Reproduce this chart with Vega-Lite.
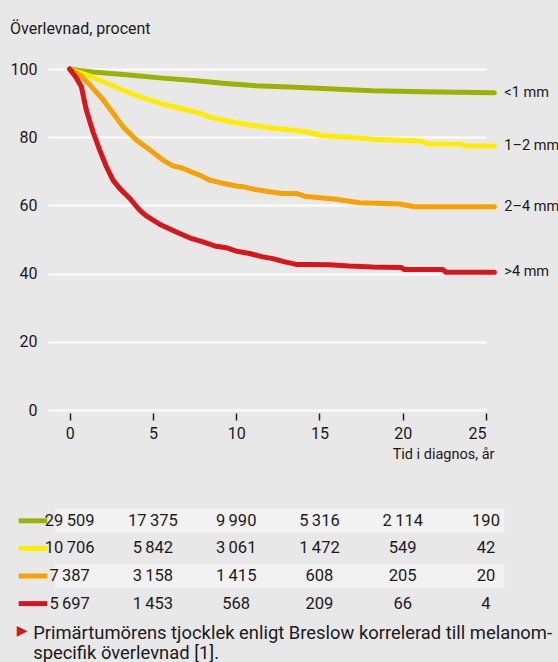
{
  "$schema": "https://vega.github.io/schema/vega-lite/v6.json",
  "background": "#e8e8e8",
  "padding": {"left": 10, "top": 21, "right": 0, "bottom": 0},
  "bounds": "flush",
  "spacing": 97,
  "config": {
    "view": {"stroke": null},
    "font": "Roboto",
    "locale": {"number": {"decimal": ",", "thousands": "\u2009", "grouping": [3], "currency": ["", " kr"]}},
    "axis": {"labelColor": "#1a1a1a", "titleColor": "#1a1a1a", "labelFont": "Roboto", "titleFont": "Roboto"}
  },
  "datasets": {
    "series": [
      {"group": "<1 mm", "year": 0, "value": 100}, {"group": "<1 mm", "year": 0.7, "value": 99.5}, {"group": "<1 mm", "year": 1.4, "value": 99.1}, {"group": "<1 mm", "year": 3.4, "value": 98.3}, {"group": "<1 mm", "year": 5.4, "value": 97.4}, {"group": "<1 mm", "year": 7.8, "value": 96.5}, {"group": "<1 mm", "year": 9.2, "value": 95.8}, {"group": "<1 mm", "year": 11.2, "value": 95.1}, {"group": "<1 mm", "year": 13.2, "value": 94.7}, {"group": "<1 mm", "year": 15.2, "value": 94.3}, {"group": "<1 mm", "year": 16.8, "value": 93.9}, {"group": "<1 mm", "year": 18.2, "value": 93.6}, {"group": "<1 mm", "year": 21.2, "value": 93.3}, {"group": "<1 mm", "year": 25.5, "value": 93.0},
      {"group": "1–2 mm", "year": 0, "value": 100}, {"group": "1–2 mm", "year": 1.0, "value": 98.3}, {"group": "1–2 mm", "year": 2.2, "value": 95.9}, {"group": "1–2 mm", "year": 3.4, "value": 93.4}, {"group": "1–2 mm", "year": 4.4, "value": 91.5}, {"group": "1–2 mm", "year": 5.4, "value": 90.0}, {"group": "1–2 mm", "year": 6.6, "value": 88.5}, {"group": "1–2 mm", "year": 7.8, "value": 87.1}, {"group": "1–2 mm", "year": 8.4, "value": 85.9}, {"group": "1–2 mm", "year": 9.6, "value": 84.6}, {"group": "1–2 mm", "year": 10.8, "value": 83.6}, {"group": "1–2 mm", "year": 12.0, "value": 82.8}, {"group": "1–2 mm", "year": 13.2, "value": 82.1}, {"group": "1–2 mm", "year": 14.2, "value": 81.6}, {"group": "1–2 mm", "year": 14.7, "value": 81.0}, {"group": "1–2 mm", "year": 15.2, "value": 80.4}, {"group": "1–2 mm", "year": 16.8, "value": 80.0}, {"group": "1–2 mm", "year": 18.2, "value": 79.4}, {"group": "1–2 mm", "year": 21.1, "value": 78.9}, {"group": "1–2 mm", "year": 21.5, "value": 78.0}, {"group": "1–2 mm", "year": 23.5, "value": 78.0}, {"group": "1–2 mm", "year": 23.8, "value": 77.4}, {"group": "1–2 mm", "year": 25.5, "value": 77.4},
      {"group": "2–4 mm", "year": 0, "value": 100}, {"group": "2–4 mm", "year": 0.6, "value": 98.3}, {"group": "2–4 mm", "year": 1.2, "value": 95.4}, {"group": "2–4 mm", "year": 2.0, "value": 91.0}, {"group": "2–4 mm", "year": 2.6, "value": 87.1}, {"group": "2–4 mm", "year": 3.2, "value": 83.1}, {"group": "2–4 mm", "year": 4.0, "value": 79.2}, {"group": "2–4 mm", "year": 4.8, "value": 76.3}, {"group": "2–4 mm", "year": 5.6, "value": 73.3}, {"group": "2–4 mm", "year": 6.2, "value": 71.6}, {"group": "2–4 mm", "year": 6.8, "value": 70.9}, {"group": "2–4 mm", "year": 7.4, "value": 69.6}, {"group": "2–4 mm", "year": 7.8, "value": 68.9}, {"group": "2–4 mm", "year": 8.4, "value": 67.4}, {"group": "2–4 mm", "year": 9.2, "value": 66.5}, {"group": "2–4 mm", "year": 10.0, "value": 65.7}, {"group": "2–4 mm", "year": 10.4, "value": 65.5}, {"group": "2–4 mm", "year": 11.1, "value": 64.7}, {"group": "2–4 mm", "year": 12.0, "value": 64.0}, {"group": "2–4 mm", "year": 12.8, "value": 63.5}, {"group": "2–4 mm", "year": 13.6, "value": 63.5}, {"group": "2–4 mm", "year": 14.1, "value": 62.7}, {"group": "2–4 mm", "year": 15.2, "value": 62.2}, {"group": "2–4 mm", "year": 16.0, "value": 61.8}, {"group": "2–4 mm", "year": 17.4, "value": 60.8}, {"group": "2–4 mm", "year": 19.8, "value": 60.4}, {"group": "2–4 mm", "year": 20.7, "value": 59.6}, {"group": "2–4 mm", "year": 25.5, "value": 59.6},
      {"group": ">4 mm", "year": 0, "value": 100}, {"group": ">4 mm", "year": 0.4, "value": 97.4}, {"group": ">4 mm", "year": 0.7, "value": 94.9}, {"group": ">4 mm", "year": 1.0, "value": 88.0}, {"group": ">4 mm", "year": 1.4, "value": 81.6}, {"group": ">4 mm", "year": 1.8, "value": 76.3}, {"group": ">4 mm", "year": 2.2, "value": 71.4}, {"group": ">4 mm", "year": 2.6, "value": 67.4}, {"group": ">4 mm", "year": 3.0, "value": 65.0}, {"group": ">4 mm", "year": 3.6, "value": 62.1}, {"group": ">4 mm", "year": 4.2, "value": 58.6}, {"group": ">4 mm", "year": 4.6, "value": 56.9}, {"group": ">4 mm", "year": 5.4, "value": 54.5}, {"group": ">4 mm", "year": 6.4, "value": 52.2}, {"group": ">4 mm", "year": 7.2, "value": 50.5}, {"group": ">4 mm", "year": 8.0, "value": 49.3}, {"group": ">4 mm", "year": 8.8, "value": 48.0}, {"group": ">4 mm", "year": 9.4, "value": 47.6}, {"group": ">4 mm", "year": 10.0, "value": 46.6}, {"group": ">4 mm", "year": 10.8, "value": 45.9}, {"group": ">4 mm", "year": 11.6, "value": 44.9}, {"group": ">4 mm", "year": 12.2, "value": 44.4}, {"group": ">4 mm", "year": 12.8, "value": 43.6}, {"group": ">4 mm", "year": 13.6, "value": 42.7}, {"group": ">4 mm", "year": 14.4, "value": 42.7}, {"group": ">4 mm", "year": 15.6, "value": 42.6}, {"group": ">4 mm", "year": 16.8, "value": 42.2}, {"group": ">4 mm", "year": 18.2, "value": 41.9}, {"group": ">4 mm", "year": 19.9, "value": 41.8}, {"group": ">4 mm", "year": 20.1, "value": 41.2}, {"group": ">4 mm", "year": 22.4, "value": 41.2}, {"group": ">4 mm", "year": 22.6, "value": 40.4}, {"group": ">4 mm", "year": 25.5, "value": 40.4}
    ],
    "atrisk": [
      {"group": "<1 mm", "year": 0, "n": 29509}, {"group": "<1 mm", "year": 5, "n": 17375}, {"group": "<1 mm", "year": 10, "n": 9990}, {"group": "<1 mm", "year": 15, "n": 5316}, {"group": "<1 mm", "year": 20, "n": 2114}, {"group": "<1 mm", "year": 25, "n": 190},
      {"group": "1–2 mm", "year": 0, "n": 10706}, {"group": "1–2 mm", "year": 5, "n": 5842}, {"group": "1–2 mm", "year": 10, "n": 3061}, {"group": "1–2 mm", "year": 15, "n": 1472}, {"group": "1–2 mm", "year": 20, "n": 549}, {"group": "1–2 mm", "year": 25, "n": 42},
      {"group": "2–4 mm", "year": 0, "n": 7387}, {"group": "2–4 mm", "year": 5, "n": 3158}, {"group": "2–4 mm", "year": 10, "n": 1415}, {"group": "2–4 mm", "year": 15, "n": 608}, {"group": "2–4 mm", "year": 20, "n": 205}, {"group": "2–4 mm", "year": 25, "n": 20},
      {"group": ">4 mm", "year": 0, "n": 5697}, {"group": ">4 mm", "year": 5, "n": 1453}, {"group": ">4 mm", "year": 10, "n": 568}, {"group": ">4 mm", "year": 15, "n": 209}, {"group": ">4 mm", "year": 20, "n": 66}, {"group": ">4 mm", "year": 25, "n": 4}
    ],
    "groups": [
      {"group": "<1 mm"}, {"group": "1–2 mm"}, {"group": "2–4 mm"}, {"group": ">4 mm"}
    ],
    "caption": [
      {"text": "Primärtumörens tjocklek enligt Breslow korrelerad till melanom-\nspecifik överlevnad [1]."}
    ]
  },
  "vconcat": [
    {
      "width": 438,
      "height": 341,
      "title": {"text": "Överlevnad, procent", "anchor": "start", "frame": "bounds", "fontSize": 16, "fontWeight": "normal", "font": "Roboto", "color": "#1a1a1a", "offset": 24},
      "data": {"name": "series"},
      "encoding": {
        "x": {"field": "year", "type": "quantitative", "scale": {"domain": [-1.3, 25], "nice": false, "zero": false},
          "axis": {"values": [0, 5, 10, 15, 20, 25], "grid": false, "domain": false, "tickColor": "#222222", "tickSize": 7, "tickWidth": 1.5, "offset": 3, "labelPadding": 5, "labelFontSize": 16, "title": "Tid i diagnos, år", "titleFontSize": 14.5, "titleFontWeight": "normal", "titleAnchor": "end", "titleAlign": "right", "titleX": 446, "titlePadding": 6}},
        "y": {"field": "value", "type": "quantitative", "scale": {"domain": [0, 100], "nice": false},
          "axis": {"values": [0, 20, 40, 60, 80, 100], "grid": true, "gridColor": "#ffffff", "gridWidth": 2, "domain": false, "ticks": false, "labelPadding": 11, "labelFontSize": 16, "title": null}},
        "color": {"field": "group", "type": "nominal", "scale": {"domain": ["<1 mm", "1–2 mm", "2–4 mm", ">4 mm"], "range": ["#99b300", "#ffec00", "#f8a100", "#d7151b"]}, "legend": null}
      },
      "layer": [
        {"mark": {"type": "line", "strokeWidth": 5, "strokeCap": "round", "strokeJoin": "round", "clip": false}},
        {"transform": [{"joinaggregate": [{"op": "max", "field": "year", "as": "maxYear"}], "groupby": ["group"]}, {"filter": "datum.year === datum.maxYear"}],
         "mark": {"type": "text", "align": "left", "baseline": "middle", "dx": 10, "fontSize": 14.5, "color": "#1a1a1a"},
         "encoding": {"text": {"field": "group"}, "color": {"value": "#1a1a1a"}}}
      ]
    },
    {
      "width": 438,
      "height": 110.4,
      "encoding": {
        "y": {"field": "group", "type": "nominal", "scale": {"domain": ["<1 mm", "1–2 mm", "2–4 mm", ">4 mm"], "paddingInner": 0, "paddingOuter": 0}, "axis": null}
      },
      "layer": [
        {"data": {"name": "groups"}, "transform": [{"filter": {"field": "group", "oneOf": ["<1 mm", "2–4 mm"]}}],
         "mark": {"type": "bar", "color": "#f2f2f2", "height": {"band": 0.87}},
         "encoding": {"x": {"datum": -0.87, "type": "quantitative", "scale": {"domain": [-1.3, 25], "nice": false, "zero": false}, "axis": null}, "x2": {"datum": 26.1}}},
        {"data": {"name": "groups"},
         "mark": {"type": "rule", "strokeWidth": 5},
         "encoding": {"x": {"datum": -3.06, "type": "quantitative"}, "x2": {"datum": -1.35},
           "color": {"field": "group", "type": "nominal", "scale": {"domain": ["<1 mm", "1–2 mm", "2–4 mm", ">4 mm"], "range": ["#99b300", "#ffec00", "#f8a100", "#d7151b"]}, "legend": null}}},
        {"data": {"name": "atrisk"},
         "mark": {"type": "text", "align": "center", "baseline": "middle", "fontSize": 16.5, "color": "#1a1a1a"},
         "encoding": {"x": {"field": "year", "type": "quantitative"}, "text": {"field": "n", "type": "quantitative", "format": ",d"}}},
        {"data": {"name": "caption"},
         "mark": {"type": "text", "align": "center", "baseline": "top", "dy": 20.6, "fontSize": 14, "color": "#d7151b", "font": "DejaVu Sans"},
         "encoding": {"x": {"datum": -2.85, "type": "quantitative"}, "y": {"datum": ">4 mm", "type": "nominal"}, "text": {"value": "▶"}}},
        {"data": {"name": "caption"},
         "mark": {"type": "text", "align": "left", "baseline": "top", "dy": 20, "fontSize": 18.4, "lineHeight": 20.5, "lineBreak": "\n", "font": "Roboto", "color": "#1a1a1a"},
         "encoding": {"x": {"datum": -2.19, "type": "quantitative"}, "y": {"datum": ">4 mm", "type": "nominal"}, "text": {"field": "text"}}}
      ]
    }
  ]
}
